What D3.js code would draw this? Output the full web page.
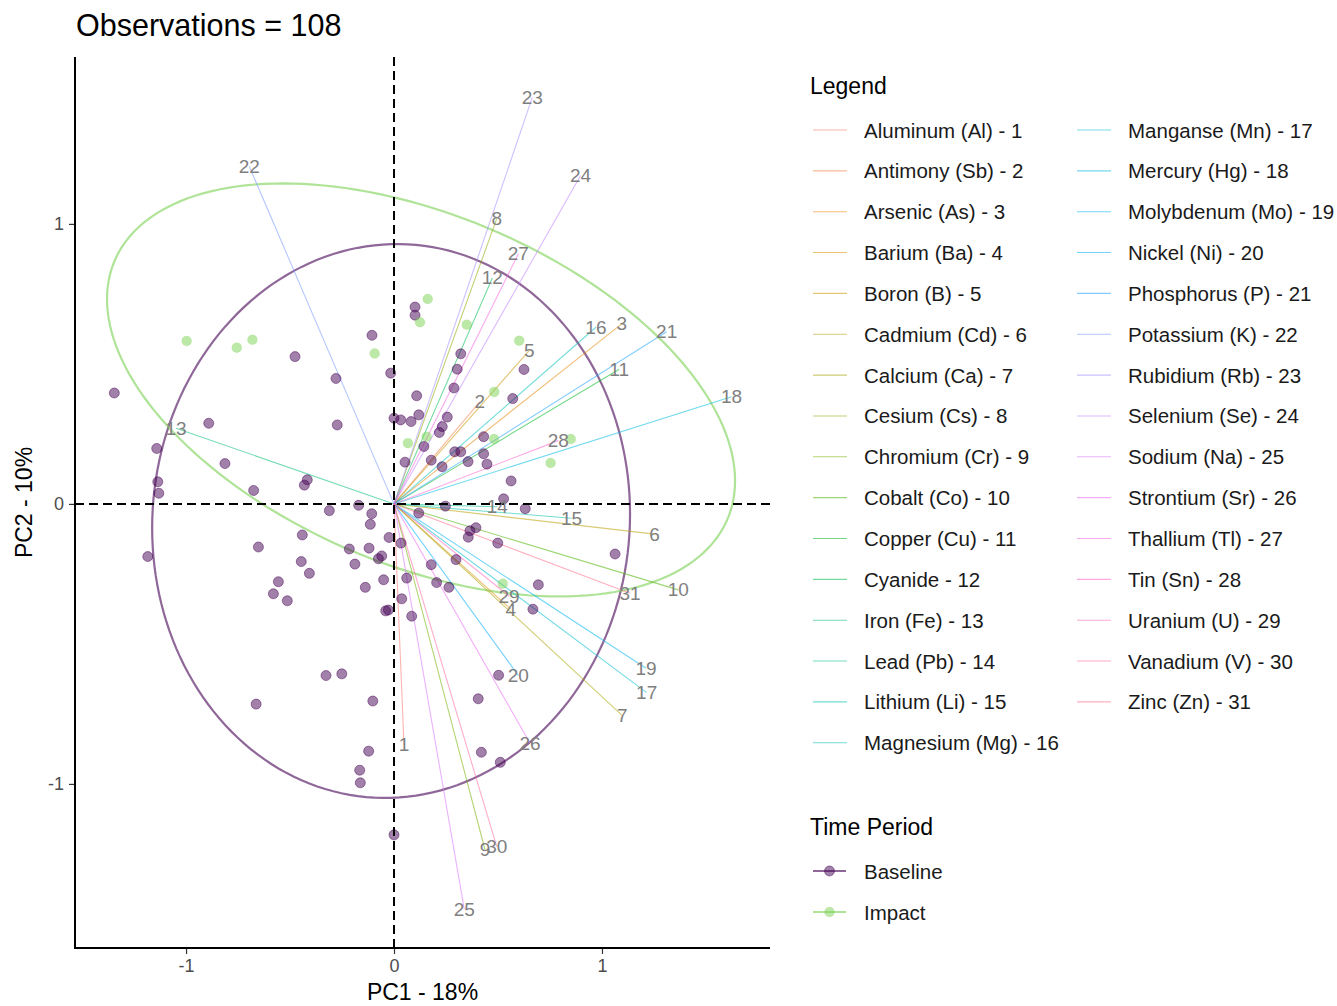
<!DOCTYPE html>
<html>
<head>
<meta charset="utf-8">
<script src="https://cdn.jsdelivr.net/npm/d3@7"></script>
<style>
  body { margin: 0; background: #fff; }
  text { font-family: "Liberation Sans", Arial, sans-serif; }
</style>
</head>
<body>
<svg id="chart" width="1337" height="1006"></svg>
<script>
// ---- Data ---------------------------------------------------------------
const variableNames = [
  "Aluminum (Al)", "Antimony (Sb)", "Arsenic (As)", "Barium (Ba)", "Boron (B)",
  "Cadmium (Cd)", "Calcium (Ca)", "Cesium (Cs)", "Chromium (Cr)", "Cobalt (Co)",
  "Copper (Cu)", "Cyanide", "Iron (Fe)", "Lead (Pb)", "Lithium (Li)",
  "Magnesium (Mg)", "Manganse (Mn)", "Mercury (Hg)", "Molybdenum (Mo)", "Nickel (Ni)",
  "Phosphorus (P)", "Potassium (K)", "Rubidium (Rb)", "Selenium (Se)", "Sodium (Na)",
  "Strontium (Sr)", "Thallium (Tl)", "Tin (Sn)", "Uranium (U)", "Vanadium (V)", "Zinc (Zn)"
];
// variable loadings (arrow tips) on PC1 / PC2
const loadingPC1 = [0.048, 0.413, 1.095, 0.561, 0.651, 1.253, 1.098, 0.494, 0.438, 1.367,
                    1.083, 0.473, -1.048, 0.497, 0.854, 0.971, 1.215, 1.623, 1.212, 0.598,
                    1.311, -0.696, 0.665, 0.897, 0.338, 0.654, 0.598, 0.790, 0.553, 0.494, 1.135];
const loadingPC2 = [-0.861, 0.365, 0.643, -0.376, 0.548, -0.108, -0.756, 1.019, -1.236, -0.307,
                    0.481, 0.807, 0.270, -0.010, -0.051, 0.631, -0.674, 0.383, -0.587, -0.613,
                    0.615, 1.205, 1.452, 1.173, -1.448, -0.855, 0.893, 0.226, -0.329, -1.224, -0.319];

// observation scores
const baselinePC1 = [-1.345,-0.476,-0.106,-0.279,-0.016,-0.891,-0.273,-1.141,-0.813,-1.136,
  -1.131,-0.417,-0.431,-0.675,-0.311,-0.170,-0.107,-0.114,-0.441,-0.024,
  -0.652,-0.215,-0.120,-0.059,-0.075,-1.184,-0.446,-0.188,-0.407,-0.050,
  -0.556,-0.138,-0.580,-0.513,-0.040,-0.027,-0.327,-0.251,-0.663,-0.102,
  -0.122,-0.165,-0.162,0.101,0.101,0.321,0.304,0.625,0.288,0.109,
  0.571,0.000,0.032,0.082,0.119,0.256,0.232,0.218,0.431,0.144,
  0.292,0.321,0.431,0.053,0.179,0.356,0.447,0.231,0.563,0.527,
  0.247,0.631,0.119,0.394,0.365,0.357,0.034,0.499,1.063,0.179,
  0.298,0.061,0.205,0.264,0.694,0.037,0.085,0.668,0.503,0.405,
  0.420,0.511,0.000];
const baselinePC2 = [0.396,0.526,0.602,0.448,0.467,0.288,0.282,0.198,0.144,0.079,
  0.038,0.086,0.067,0.048,-0.024,-0.005,-0.035,-0.073,-0.111,-0.120,
  -0.154,-0.161,-0.158,-0.186,-0.196,-0.188,-0.206,-0.215,-0.248,-0.271,
  -0.278,-0.298,-0.321,-0.346,-0.382,-0.379,-0.613,-0.607,-0.715,-0.704,
  -0.883,-0.951,-0.996,0.703,0.674,0.536,0.481,0.480,0.414,0.386,
  0.376,0.306,0.300,0.294,0.318,0.310,0.276,0.255,0.240,0.205,
  0.186,0.186,0.179,0.149,0.156,0.151,0.142,0.133,0.082,0.018,
  -0.008,-0.017,-0.033,-0.085,-0.096,-0.119,-0.140,-0.140,-0.179,-0.217,
  -0.199,-0.265,-0.281,-0.298,-0.289,-0.339,-0.401,-0.376,-0.612,-0.696,
  -0.887,-0.923,-1.182];
const impactPC1 = [-0.997,-0.756,-0.681,-0.093,0.162,0.125,0.350,0.602,0.482,0.157,0.481,0.850,0.067,0.753,0.523];
const impactPC2 = [0.582,0.558,0.586,0.537,0.732,0.649,0.640,0.583,0.400,0.240,0.232,0.232,0.217,0.146,-0.285];

// group confidence ellipses: centre, spread along PC1/PC2 and covariance
const groupNames = ["Baseline", "Impact"];
const groupColors = ["#440154", "#7AD151"];
const ellipseCenterPC1 = [-0.014, 0.13];
const ellipseCenterPC2 = [-0.061, 0.407];
const ellipseSpreadPC1 = [1.149, 1.51];
const ellipseSpreadPC2 = [0.989, 0.7375];
const ellipseCovariance = [0.0285, -0.49];

const axisTicks = [-1, 0, 1];
const titleText = "Observations = 108";
const xTitle = "PC1 - 18%";
const yTitle = "PC2 - 10%";

// ---- Colour helpers (ggplot-style hue palette in polar LUV) -------------
function polarLuvToHex(h, c, l) {
  const hr = h * Math.PI / 180;
  const U = c * Math.cos(hr), V = c * Math.sin(hr);
  const Xn = 95.047, Yn = 100, Zn = 108.883;
  const den = Xn + 15 * Yn + 3 * Zn;
  const un = 4 * Xn / den, vn = 9 * Yn / den;
  const Y = l > 8 ? Yn * Math.pow((l + 16) / 116, 3) : Yn * l / 903.3;
  const up = U / (13 * l) + un, vp = V / (13 * l) + vn;
  const X = Y * 9 * up / (4 * vp);
  const Z = Y * (12 - 3 * up - 20 * vp) / (4 * vp);
  const x = X / 100, y = Y / 100, z = Z / 100;
  const lin = [
    3.2404542 * x - 1.5371385 * y - 0.4985314 * z,
    -0.9692660 * x + 1.8760108 * y + 0.0415560 * z,
    0.0556434 * x - 0.2040259 * y + 1.0572252 * z
  ];
  const g = lin.map(v => {
    const s = v <= 0.0031308 ? 12.92 * v : 1.055 * Math.pow(v, 1 / 2.4) - 0.055;
    return Math.max(0, Math.min(255, Math.round(s * 255)));
  });
  return d3.rgb(g[0], g[1], g[2]).formatHex();
}
const nVar = variableNames.length;
const variableColors = d3.range(nVar).map(i => polarLuvToHex(15 + i * 360 / nVar, 100, 65));

// ---- Layout -------------------------------------------------------------
const svg = d3.select("#chart");
const plot = { left: 75, right: 770, top: 57, bottom: 948 };

const x = d3.scaleLinear().domain([-1.534, 1.808]).range([plot.left, plot.right]);
const y = d3.scaleLinear().domain([-1.586, 1.596]).range([plot.bottom, plot.top]);

const g = svg.append("g");

// confidence ellipses
const tSteps = d3.range(0, 361, 2).map(d => d * Math.PI / 180);
groupNames.forEach((name, i) => {
  const a = ellipseSpreadPC1[i];
  const b = ellipseCovariance[i] / a;
  const c = Math.sqrt(ellipseSpreadPC2[i] ** 2 - b * b);
  const pts = tSteps.map(t => [
    ellipseCenterPC1[i] + a * Math.cos(t),
    ellipseCenterPC2[i] + b * Math.cos(t) + c * Math.sin(t)
  ]);
  g.append("path")
    .datum(pts)
    .attr("d", d3.line().x(d => x(d[0])).y(d => y(d[1])).curve(d3.curveLinearClosed))
    .attr("fill", "none")
    .attr("stroke", groupColors[i])
    .attr("stroke-opacity", 0.6)
    .attr("stroke-width", 2.2);
});

// variable arrows
const loadings = variableNames.map((n, i) => ({ n, i, px: loadingPC1[i], py: loadingPC2[i] }));
g.append("g").selectAll("line").data(loadings).join("line")
  .attr("x1", x(0)).attr("y1", y(0))
  .attr("x2", d => x(d.px)).attr("y2", d => y(d.py))
  .attr("stroke", d => variableColors[d.i])
  .attr("stroke-opacity", 0.55)
  .attr("stroke-width", 1.1);

// observations
const obs = [];
baselinePC1.forEach((v, i) => obs.push({ g: 0, px: v, py: baselinePC2[i] }));
impactPC1.forEach((v, i) => obs.push({ g: 1, px: v, py: impactPC2[i] }));
g.append("g").selectAll("circle").data(obs).join("circle")
  .attr("cx", d => x(d.px)).attr("cy", d => y(d.py))
  .attr("r", 5)
  .attr("fill", d => groupColors[d.g])
  .attr("fill-opacity", 0.5)
  .attr("stroke", d => groupColors[d.g])
  .attr("stroke-opacity", d => d.g === 0 ? 0.45 : 0.1)
  .attr("stroke-width", 1);

// reference lines through the origin
g.append("line")
  .attr("x1", x(0)).attr("x2", x(0)).attr("y1", plot.top).attr("y2", plot.bottom)
  .attr("stroke", "#000").attr("stroke-width", 2).attr("stroke-dasharray", "9,5");
g.append("line")
  .attr("x1", plot.left).attr("x2", plot.right).attr("y1", y(0)).attr("y2", y(0))
  .attr("stroke", "#000").attr("stroke-width", 2).attr("stroke-dasharray", "9,5");

// variable labels
g.append("g").selectAll("text").data(loadings).join("text")
  .attr("x", d => x(d.px)).attr("y", d => y(d.py))
  .attr("text-anchor", "middle")
  .attr("dominant-baseline", "central")
  .attr("font-size", 19)
  .attr("fill", "#7f7f7f")
  .text(d => d.i + 1);

// axes
const tickFmt = d => String(d);
const xAxis = svg.append("g")
  .attr("transform", `translate(0,${plot.bottom})`)
  .call(d3.axisBottom(x).tickValues(axisTicks).tickSize(6).tickPadding(5).tickFormat(tickFmt));
const yAxis = svg.append("g")
  .attr("transform", `translate(${plot.left},0)`)
  .call(d3.axisLeft(y).tickValues(axisTicks).tickSize(6).tickPadding(5).tickFormat(tickFmt));
[xAxis, yAxis].forEach(ax => {
  ax.select(".domain").remove();
  ax.selectAll(".tick line").attr("stroke", "#333").attr("stroke-width", 1.2);
  ax.selectAll(".tick text").attr("font-size", 18).attr("fill", "#4d4d4d")
    .attr("font-family", "Liberation Sans, Arial, sans-serif");
});
svg.append("line").attr("x1", plot.left).attr("x2", plot.left)
  .attr("y1", plot.top).attr("y2", plot.bottom + 1)
  .attr("stroke", "#000").attr("stroke-width", 2);
svg.append("line").attr("x1", plot.left - 1).attr("x2", plot.right)
  .attr("y1", plot.bottom).attr("y2", plot.bottom)
  .attr("stroke", "#000").attr("stroke-width", 2);

// titles
svg.append("text").attr("x", 76).attr("y", 36)
  .attr("font-size", 30.5).attr("fill", "#000").text(titleText);
svg.append("text").attr("x", (plot.left + plot.right) / 2).attr("y", 1000)
  .attr("text-anchor", "middle").attr("font-size", 23).attr("fill", "#000").text(xTitle);
svg.append("text")
  .attr("transform", `translate(32,${(plot.top + plot.bottom) / 2}) rotate(-90)`)
  .attr("text-anchor", "middle").attr("font-size", 23).attr("fill", "#000").text(yTitle);

// legend: variables
const leg = svg.append("g");
leg.append("text").attr("x", 810).attr("y", 94).attr("font-size", 23).text("Legend");
const rowH = 40.85, rowsPerCol = 16;
loadings.forEach(d => {
  const col = Math.floor(d.i / rowsPerCol);
  const row = d.i % rowsPerCol;
  const kx = col === 0 ? 813 : 1077;
  const ky = 130 + row * rowH;
  leg.append("line").attr("x1", kx).attr("x2", kx + 34).attr("y1", ky).attr("y2", ky)
    .attr("stroke", variableColors[d.i]).attr("stroke-opacity", 0.55).attr("stroke-width", 1.1);
  leg.append("text").attr("x", kx + 51).attr("y", ky).attr("dominant-baseline", "central")
    .attr("font-size", 20.5).attr("fill", "#1a1a1a").text(`${d.n} - ${d.i + 1}`);
});

// legend: time period
leg.append("text").attr("x", 810).attr("y", 835).attr("font-size", 23).text("Time Period");
groupNames.forEach((name, i) => {
  const ky = 871 + i * 41;
  leg.append("line").attr("x1", 813).attr("x2", 846).attr("y1", ky).attr("y2", ky)
    .attr("stroke", groupColors[i]).attr("stroke-opacity", 0.6).attr("stroke-width", 2.2);
  leg.append("circle").attr("cx", 829.5).attr("cy", ky).attr("r", 5)
    .attr("fill", groupColors[i]).attr("fill-opacity", 0.5)
    .attr("stroke", groupColors[i]).attr("stroke-opacity", i === 0 ? 0.45 : 0.1);
  leg.append("text").attr("x", 864).attr("y", ky).attr("dominant-baseline", "central")
    .attr("font-size", 20.5).attr("fill", "#1a1a1a").text(name);
});
</script>
</body>
</html>
